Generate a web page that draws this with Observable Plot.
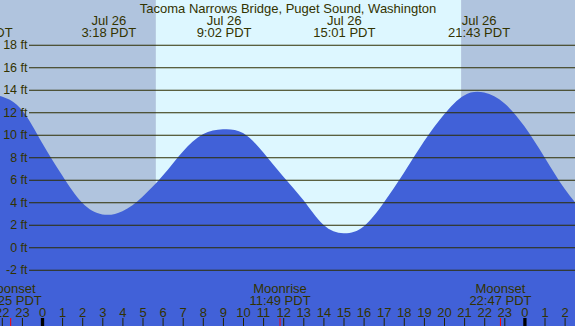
<!DOCTYPE html>
<html>
<head>
<meta charset="utf-8">
<script src="https://cdn.jsdelivr.net/npm/d3@7"></script>
<script src="https://cdn.jsdelivr.net/npm/@observablehq/plot@0.6"></script>
<style>
  html, body { margin: 0; padding: 0; background: #ffffff; }
  svg { display: block; }
</style>
</head>
<body>
<script>
// ---- Data ----
const title = "Tacoma Narrows Bridge, Puget Sound, Washington";

// tide curve samples: hours relative to Jul 26 00:00 PDT, height in ft
const tideHours = [-3, -2, -1, 0, 1, 2, 3, 4, 5, 6, 7, 8, 9, 10, 11, 12, 13, 14, 15, 16, 17, 18, 19, 20, 21, 22, 23, 24, 25, 26, 27];
const tideFeet  = [13.8, 13.4, 12.2, 9.3, 6.4, 3.95, 2.92, 3.2, 4.5, 6.35, 8.5, 10.05, 10.49, 10.15, 8.45, 6.3, 4.2, 2.0, 1.24, 1.85, 3.95, 6.6, 9.4, 11.8, 13.5, 13.75, 12.8, 10.75, 8.0, 5.2, 3.0];

// high / low labels
const extremeDays    = ["Jul 25", "Jul 26", "Jul 26", "Jul 26", "Jul 26"];
const extremeTimes   = ["20:58", "3:18", "9:02", "15:01", "21:43"];
const extremeOffsets = [-1, 0, 0, 0, 0];

// moon events
const moonEvents  = ["Moonset", "Moonrise", "Moonset"];
const moonTimes   = ["22:25", "11:49", "22:47"];
const moonOffsets = [-1, 0, 0];

// sun
const sunrise = "5:40";
const sunset  = "20:51";

// y grid (ft) and hour ticks
const gridFeet = [-2, 0, 2, 4, 6, 8, 10, 12, 14, 16, 18];
const hourTicks = d3.range(-2, 27);

// ---- helpers ----
const hrs = (t, off) => { const [H, M] = t.split(":").map(Number); return off * 24 + H + M / 60; };

const tide = tideHours.map((h, i) => ({h, ft: tideFeet[i]}));
const extremes = extremeTimes.map((t, i) => ({h: hrs(t, extremeOffsets[i]), label: `${extremeDays[i]}\n${t} PDT`}));
const moons = moonTimes.map((t, i) => ({h: hrs(t, moonOffsets[i]), label: `${moonEvents[i]}\n${t} PDT`}));
const riseH = hrs(sunrise, 0), setH = hrs(sunset, 0);

const xDomain = [-2.09, 26.517];
const yDomain = [-7.0, 21.98];

const bands = [
  {x1: xDomain[0] - 1, x2: riseH, fill: "#b0c4de"},
  {x1: riseH, x2: setH, fill: "#ddf7ff"},
  {x1: setH, x2: xDomain[1] + 1, fill: "#b0c4de"}
];

const ink = "#333300";

const chart = Plot.plot({
  width: 575,
  height: 326,
  margin: 0,
  x: {domain: xDomain, axis: null},
  y: {domain: yDomain, axis: null},
  style: {fontFamily: "'Liberation Sans', Arial, sans-serif", fontSize: "13px", color: ink, background: "#ffffff"},
  marks: [
    Plot.rect(bands, {x1: "x1", x2: "x2", fill: "fill", clip: true}),
    Plot.areaY(tide, {x: "h", y1: () => yDomain[0], y2: "ft", fill: "#4161d8", curve: "natural", clip: true}),
    Plot.ruleY(gridFeet, {y: d => d, stroke: "#2e2e00", strokeWidth: 1.2, insetLeft: 29}),
    Plot.text(gridFeet, {y: d => d, text: d => `${d} ft`, frameAnchor: "left", dx: 27, textAnchor: "end", fill: ink, fontSize: 12.5}),
    Plot.text([title], {text: d => d, frameAnchor: "top", dy: 12, lineAnchor: "bottom", fill: ink}),
    Plot.text(extremes, {x: "h", text: "label", frameAnchor: "top", dy: 36, lineAnchor: "bottom", lineHeight: 0.92, fill: ink}),
    Plot.text(moons, {x: "h", text: "label", frameAnchor: "bottom", dy: -22, lineAnchor: "bottom", lineHeight: 0.92, fill: ink}),
    Plot.text(hourTicks, {x: d => d, text: d => String((d + 24) % 24), frameAnchor: "bottom", dy: -10, lineAnchor: "bottom", fill: ink}),
    Plot.ruleX(hourTicks.filter(d => d % 24 !== 0), {x: d => d, stroke: "#222200", strokeWidth: 1, insetTop: 318}),
    Plot.ruleX(hourTicks.filter(d => d % 24 === 0), {x: d => d, stroke: "#000000", strokeWidth: 3.3, insetTop: 318}),
    Plot.ruleX(moons, {x: "h", stroke: "#ff0000", strokeWidth: 1, insetTop: 318})
  ]
});
document.body.appendChild(chart);
</script>
</body>
</html>
